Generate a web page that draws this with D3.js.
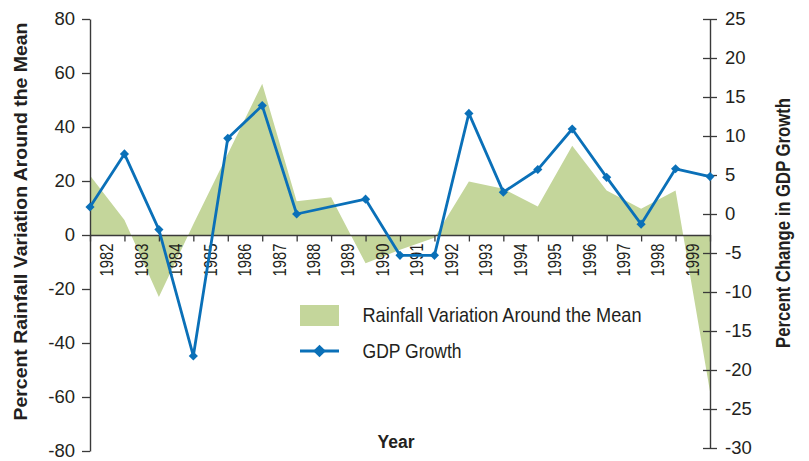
<!DOCTYPE html>
<html>
<head>
<meta charset="utf-8">
<script src="https://cdn.jsdelivr.net/npm/d3@7"></script>
<style>
  body { margin: 0; background: #fff; }
  svg { display: block; }
</style>
</head>
<body>
<svg id="chart" width="809" height="461"></svg>
<script>
// ---- data ----
const years = ["1982","1983","1984","1985","1986","1987","1988","1989","1990",
               "1991","1992","1993","1994","1995","1996","1997","1998","1999"];
// values at the 19 category boundaries (index 0..18)
const rainfall = [22, 5.6, -23, 4, 30, 56, 12.5, 14, -10.5, -5.5, -1, 19.8, 17.1, 10.6, 33.1, 16.5, 9.7, 16.5, -58];
const gdp = [0.9, 7.7, -2, -18.2, 9.7, 13.9, 0, null, 1.9, -5.3, -5.3, 12.9, 2.8, 5.7, 10.9, 4.7, -1.3, 5.8, 4.8];
const leftTicks = [-80, -60, -40, -20, 0, 20, 40, 60, 80];
const rightTicks = [-30, -25, -20, -15, -10, -5, 0, 5, 10, 15, 20, 25];
const legendLabels = ["Rainfall Variation Around the Mean", "GDP Growth"];

const svg = d3.select("#chart");
const txt = "#231f20";
const axisCol = "#3a3a3a";
const green = "#c4d69b";
const blue = "#0a70b8";
const sans = "'Liberation Sans', Arial, sans-serif";
const plain = d => String(d); // hyphen-minus as in the reference

const x = d3.scaleLinear().domain([0, 18]).range([90, 710]);
const yL = d3.scaleLinear().domain([-80, 80]).range([451, 19]);
const yR = d3.scaleLinear().domain([-30, 25]).range([448, 19]);

// rainfall area
const area = d3.area()
  .x((d, i) => x(i))
  .y0(yL(0))
  .y1(d => yL(d));
svg.append("path").datum(rainfall).attr("d", area).attr("fill", green);

// x axis (boundary ticks)
const xAxis = svg.append("g").attr("transform", `translate(0,${yL(0)})`)
  .call(d3.axisBottom(x).tickValues(d3.range(0, 19)).tickFormat("").tickSize(6.5).tickSizeOuter(0));
xAxis.select(".domain").attr("stroke", axisCol).attr("stroke-width", 1.4);
xAxis.selectAll(".tick line").attr("stroke", axisCol).attr("stroke-width", 1.3);

// year labels, centred in each category (condensed)
svg.append("g").selectAll("text").data(years).join("text")
  .attr("transform", (d, i) => `translate(${x(i + 0.5)},${yL(0) + 8.5}) rotate(-90)`)
  .attr("text-anchor", "end")
  .attr("dy", "0.35em")
  .attr("font-family", sans)
  .attr("font-size", 17.5)
  .attr("textLength", 33)
  .attr("lengthAdjust", "spacingAndGlyphs")
  .attr("fill", txt)
  .text(d => d);

// left axis
const lAxis = svg.append("g").attr("transform", `translate(${x(0)},0)`)
  .call(d3.axisLeft(yL).tickValues(leftTicks).tickFormat(plain).tickSize(8).tickPadding(7).tickSizeOuter(0));
lAxis.select(".domain").attr("stroke", axisCol).attr("stroke-width", 1.4);
lAxis.selectAll(".tick line").attr("stroke", axisCol).attr("stroke-width", 1.3);
lAxis.selectAll(".tick text").attr("font-family", sans)
  .attr("font-size", 18.5).attr("fill", txt);

// right axis (ticks cross the line)
const rAxis = svg.append("g").attr("transform", `translate(${x(18)},0)`)
  .call(d3.axisRight(yR).tickValues(rightTicks).tickFormat(plain).tickSize(7).tickPadding(8).tickSizeOuter(0));
rAxis.select(".domain").attr("stroke", axisCol).attr("stroke-width", 1.4);
rAxis.selectAll(".tick line").attr("x1", -7).attr("stroke", axisCol).attr("stroke-width", 1.3);
rAxis.selectAll(".tick text").attr("font-family", sans)
  .attr("font-size", 18.5).attr("fill", txt);

// GDP line
const gdpPts = gdp.map((v, i) => ({ i, v })).filter(d => d.v !== null);
const line = d3.line().x(d => x(d.i)).y(d => yR(d.v));
svg.append("path").datum(gdpPts).attr("d", line)
  .attr("fill", "none").attr("stroke", blue).attr("stroke-width", 2.8).attr("stroke-linejoin", "round");
const diamond = d3.symbol().type(d3.symbolSquare).size(42);
svg.append("g").selectAll("path").data(gdpPts).join("path")
  .attr("d", diamond)
  .attr("transform", d => `translate(${x(d.i)},${yR(d.v)}) rotate(45)`)
  .attr("fill", blue);

// axis titles
svg.append("text")
  .attr("transform", "translate(26.5,221.5) rotate(-90)")
  .attr("text-anchor", "middle")
  .attr("font-family", sans)
  .attr("font-weight", "bold").attr("font-size", 19.2).attr("fill", txt)
  .attr("textLength", 398).attr("lengthAdjust", "spacingAndGlyphs")
  .text("Percent Rainfall Variation Around the Mean");
svg.append("text")
  .attr("transform", "translate(790,223) rotate(-90)")
  .attr("text-anchor", "middle")
  .attr("font-family", sans)
  .attr("font-weight", "bold").attr("font-size", 19.5).attr("fill", txt)
  .attr("textLength", 250).attr("lengthAdjust", "spacingAndGlyphs")
  .text("Percent Change in GDP Growth");
svg.append("text")
  .attr("x", 396).attr("y", 447.5)
  .attr("text-anchor", "middle")
  .attr("font-family", sans)
  .attr("font-weight", "bold").attr("font-size", 17.5).attr("fill", txt)
  .text("Year");

// legend
const lg = svg.append("g");
lg.append("rect").attr("x", 300).attr("y", 305).attr("width", 39).attr("height", 21).attr("fill", green);
lg.append("line").attr("x1", 300).attr("x2", 339).attr("y1", 351).attr("y2", 351)
  .attr("stroke", blue).attr("stroke-width", 2.8);
lg.append("path").attr("d", d3.symbol().type(d3.symbolSquare).size(80))
  .attr("transform", "translate(319.5,351) rotate(45)").attr("fill", blue);
lg.selectAll("text").data(legendLabels).join("text")
  .attr("x", 362.5)
  .attr("y", (d, i) => [321.7, 358.3][i])
  .attr("font-family", sans)
  .attr("font-size", 21)
  .attr("textLength", (d, i) => [279, 99][i])
  .attr("lengthAdjust", "spacingAndGlyphs")
  .attr("fill", txt)
  .text(d => d);
</script>
</body>
</html>
